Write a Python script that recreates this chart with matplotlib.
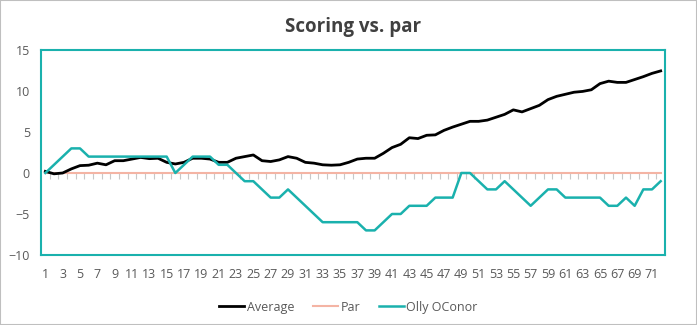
import numpy as np
import matplotlib
matplotlib.use('Agg')
import matplotlib.pyplot as plt

plt.rcParams['font.family'] = ['Open Sans', 'DejaVu Sans']

holes = np.arange(1, 73)

average = [0.2, -0.1, 0.0, 0.5, 0.9, 0.95, 1.2, 1.0, 1.5, 1.5,
           1.7, 1.9, 1.75, 1.8, 1.3, 1.1, 1.3, 1.8, 1.8, 1.7,
           1.3, 1.3, 1.8, 2.0, 2.2, 1.5, 1.4, 1.6, 2.0, 1.8,
           1.3, 1.2, 1.0, 0.95, 1.0, 1.3, 1.7, 1.8, 1.8, 2.4,
           3.1, 3.5, 4.3, 4.2, 4.6, 4.65, 5.2, 5.6, 5.95, 6.3,
           6.3, 6.45, 6.8, 7.15, 7.7, 7.45, 7.85, 8.25, 8.95, 9.35,
           9.6, 9.85, 9.95, 10.15, 10.9, 11.2, 11.05, 11.05, 11.4, 11.75,
           12.15, 12.45]
par = [0] * 72
olly = [0, 1, 2, 3, 3, 2, 2, 2, 2, 2,
        2, 2, 2, 2, 2, 0, 1, 2, 2, 2,
        1, 1, 0, -1, -1, -2, -3, -3, -2, -3,
        -4, -5, -6, -6, -6, -6, -6, -7, -7, -6,
        -5, -5, -4, -4, -4, -3, -3, -3, 0, 0,
        -1, -2, -2, -1, -2, -3, -4, -3, -2, -2,
        -3, -3, -3, -3, -3, -4, -4, -3, -4, -2,
        -2, -1]

teal = '#1ab1ad'
salmon = '#f4b4a4'
grey = '#595959'

fig = plt.figure(figsize=(6.97, 3.25), dpi=100)
ax = fig.add_axes([41/697, 70/325, 624/697, 205/325])

ax.plot(holes, average, color='black', lw=2, label='Average', zorder=3)
ax.plot(holes, par, color=salmon, lw=1.5, label='Par', zorder=2)
ax.plot(holes, olly, color=teal, lw=1.8, label='Olly OConor', zorder=4)

ax.set_xlim(0.5, 72.5)
ax.set_ylim(-10, 15)
ax.set_yticks(range(-10, 16, 5))
ax.set_xticks(holes[::2])
ax.tick_params(axis='both', length=0, labelsize=9, colors=grey, pad=8)
ax.tick_params(axis='x', pad=9)
for s in ax.spines.values():
    s.set_color(teal)
    s.set_linewidth(1.5)

# category tick marks on the zero line
zero_ax = ax.secondary_xaxis(10/25)
zero_ax.set_xticks(np.arange(1.5, 72, 1))
zero_ax.tick_params(length=4, width=0.8, color='#c8c8c8', labelbottom=False, direction='out')
zero_ax.spines['bottom'].set_visible(False)

ax.set_title('Scoring vs. par', fontsize=13.5, fontweight='bold', color='#404040', pad=13)
fig.legend(loc='lower center', ncol=3, frameon=False, fontsize=9,
           bbox_to_anchor=(0.5, 0.0), handlelength=2.0, handletextpad=0.2,
           columnspacing=1.5, labelcolor=grey)

fig.patches.append(plt.Rectangle((0, 0), 1, 1, transform=fig.transFigure,
                                 fill=False, edgecolor='#bfbfbf', lw=1.5))

fig.savefig('out.png', dpi=100)
